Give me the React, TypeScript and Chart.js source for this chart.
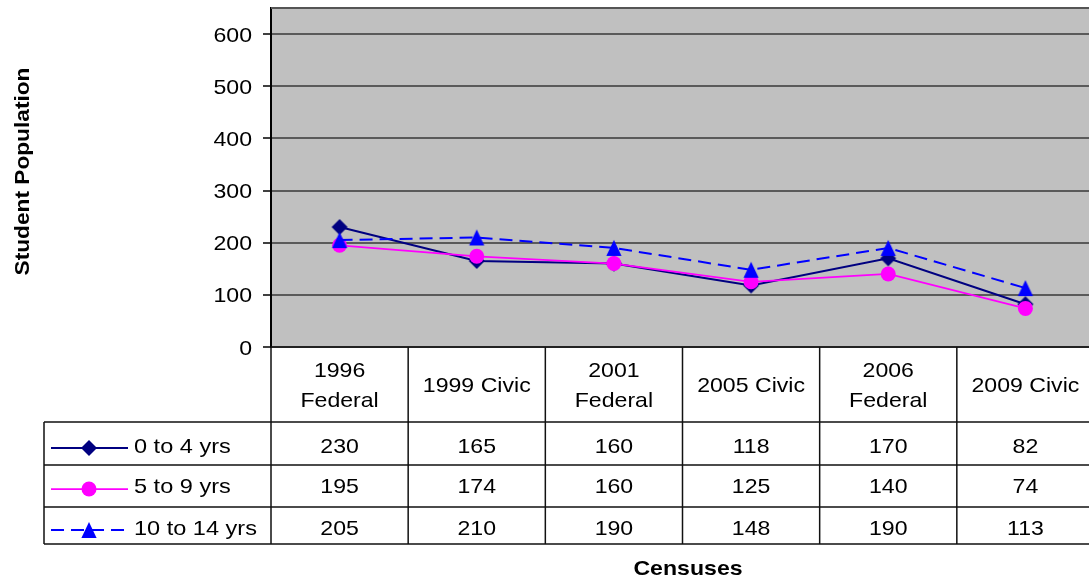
import React, { useEffect, useRef } from "react";
import { Chart, registerables } from "chart.js";

Chart.register(...registerables);

// Census columns (multi-line labels are split into lines)
const censuses: string[][] = [
  ["1996", "Federal"],
  ["1999 Civic"],
  ["2001", "Federal"],
  ["2005 Civic"],
  ["2006", "Federal"],
  ["2009 Civic"],
];

const seriesNames = ["0 to 4 yrs", "5 to 9 yrs", "10 to 14 yrs"];
const ages0to4 = [230, 165, 160, 118, 170, 82];
const ages5to9 = [195, 174, 160, 125, 140, 74];
const ages10to14 = [205, 210, 190, 148, 190, 113];

const yTickStep = 100;
const yMax = 650;

const yTitle = "Student Population";
const xTitle = "Censuses";

const FONT = "'Liberation Sans', Arial, sans-serif";
const TEXT_STRETCH = 1.1;

type Marker = "diamond" | "circle" | "triangle";

const seriesStyles: { color: string; marker: Marker; radius: number; dash: number[]; width: number }[] = [
  { color: "#000080", marker: "diamond", radius: 8, dash: [], width: 2 },
  { color: "#FF00FF", marker: "circle", radius: 7.5, dash: [], width: 1.75 },
  { color: "#0000FF", marker: "triangle", radius: 8, dash: [13, 7], width: 2 },
];

function drawText(
  ctx: CanvasRenderingContext2D,
  text: string,
  x: number,
  y: number,
  font: string,
  align: CanvasTextAlign,
  sx = TEXT_STRETCH,
  rotate = 0
) {
  ctx.save();
  ctx.translate(x, y);
  if (rotate) ctx.rotate(rotate);
  ctx.scale(sx, 1);
  ctx.font = font;
  ctx.fillStyle = "#000";
  ctx.textAlign = align;
  ctx.textBaseline = "alphabetic";
  ctx.fillText(text, 0, 0);
  ctx.restore();
}

function drawMarker(ctx: CanvasRenderingContext2D, marker: Marker, x: number, y: number, r: number, color: string) {
  ctx.save();
  ctx.fillStyle = color;
  ctx.beginPath();
  if (marker === "diamond") {
    ctx.moveTo(x, y - r);
    ctx.lineTo(x + r, y);
    ctx.lineTo(x, y + r);
    ctx.lineTo(x - r, y);
  } else if (marker === "circle") {
    ctx.arc(x, y, r, 0, Math.PI * 2);
  } else {
    // isosceles triangle, as tall as it is wide
    ctx.moveTo(x, y - r);
    ctx.lineTo(x + r * 0.95, y + r);
    ctx.lineTo(x - r * 0.95, y + r);
  }
  ctx.closePath();
  ctx.fill();
  ctx.restore();
}

function markerCanvas(marker: Marker, r: number, color: string): HTMLCanvasElement {
  const c = document.createElement("canvas");
  const size = Math.ceil(r * 2) + 2;
  c.width = size;
  c.height = size;
  const cctx = c.getContext("2d")!;
  drawMarker(cctx, marker, size / 2, size / 2, r, color);
  return c;
}

// Grey plot background and top border of the plot area
const plotBackground = {
  id: "plotBackground",
  beforeDraw(chart: Chart) {
    const { ctx, chartArea } = chart;
    ctx.save();
    ctx.fillStyle = "#C0C0C0";
    ctx.fillRect(chartArea.left, chartArea.top, chartArea.right - chartArea.left, chartArea.bottom - chartArea.top);
    ctx.restore();
  },
  beforeDatasetsDraw(chart: Chart) {
    const { ctx, chartArea } = chart;
    ctx.save();
    ctx.strokeStyle = "#555";
    ctx.lineWidth = 2;
    ctx.beginPath();
    ctx.moveTo(chartArea.left, chartArea.top);
    ctx.lineTo(chartArea.right, chartArea.top);
    ctx.stroke();
    ctx.restore();
  },
};

// Y tick labels, axis titles and the data table under the plot
const tableAndLabels = {
  id: "tableAndLabels",
  afterDraw(chart: Chart) {
    const { ctx, chartArea, scales } = chart;
    const xs: any = scales.x;
    const ys: any = scales.y;

    // y tick labels
    for (const t of ys.ticks) {
      drawText(ctx, String(t.value), chartArea.left - 19, ys.getPixelForValue(t.value) + 7.5, `21px ${FONT}`, "right");
    }

    // axis titles
    drawText(ctx, yTitle, 29, 171.5, `bold 21px ${FONT}`, "center", 1.08, -Math.PI / 2);
    drawText(ctx, xTitle, 688, 575, `bold 21px ${FONT}`, "center", 1.1);

    // table geometry
    const n = censuses.length;
    const colW = xs.getPixelForValue(1) - xs.getPixelForValue(0);
    const edges: number[] = [];
    for (let i = 0; i < n; i++) edges.push(xs.getPixelForValue(i) - colW / 2);
    edges.push(xs.getPixelForValue(n - 1) + colW / 2);
    const right = edges[n];
    const legendLeft = 44;
    const headerTop = chartArea.bottom;
    const rowHeights = [75, 43, 42, 37];
    const rowEdges = [headerTop];
    for (const h of rowHeights) rowEdges.push(rowEdges[rowEdges.length - 1] + h);
    const bottom = rowEdges[rowEdges.length - 1];

    ctx.save();
    ctx.strokeStyle = "#111";
    ctx.lineWidth = 1.5;
    ctx.beginPath();
    ctx.moveTo(edges[0], headerTop);
    ctx.lineTo(right, headerTop);
    for (let r = 1; r < rowEdges.length; r++) {
      ctx.moveTo(legendLeft, rowEdges[r]);
      ctx.lineTo(right, rowEdges[r]);
    }
    ctx.moveTo(legendLeft, rowEdges[1]);
    ctx.lineTo(legendLeft, bottom);
    for (const e of edges) {
      ctx.moveTo(e, headerTop);
      ctx.lineTo(e, bottom);
    }
    ctx.stroke();
    ctx.restore();

    // header labels
    censuses.forEach((lines, i) => {
      const cx = xs.getPixelForValue(i);
      if (lines.length === 2) {
        drawText(ctx, lines[0], cx, headerTop + 29.5, `21px ${FONT}`, "center");
        drawText(ctx, lines[1], cx, headerTop + 59.5, `21px ${FONT}`, "center");
      } else {
        drawText(ctx, lines[0], cx, headerTop + 44.5, `21px ${FONT}`, "center");
      }
    });

    // series rows
    const seriesData = [ages0to4, ages5to9, ages10to14];
    const baselines = [rowEdges[1] + 31, rowEdges[2] + 28, rowEdges[3] + 28];
    const sampleY = [rowEdges[1] + 26, rowEdges[2] + 24, rowEdges[3] + 23];
    seriesData.forEach((vals, s) => {
      const st = seriesStyles[s];
      // legend key
      ctx.save();
      ctx.strokeStyle = st.color;
      ctx.lineWidth = st.width;
      ctx.setLineDash(st.dash);
      ctx.beginPath();
      ctx.moveTo(51, sampleY[s]);
      ctx.lineTo(128, sampleY[s]);
      ctx.stroke();
      ctx.restore();
      drawMarker(ctx, st.marker, 89, sampleY[s], st.radius, st.color);
      drawText(ctx, seriesNames[s], 134, baselines[s], `21px ${FONT}`, "left", 1.12);
      vals.forEach((v, i) => {
        drawText(ctx, String(v), xs.getPixelForValue(i), baselines[s], `21px ${FONT}`, "center");
      });
    });
  },
};

export default function App() {
  const canvasRef = useRef<HTMLCanvasElement | null>(null);

  useEffect(() => {
    if (!canvasRef.current) return;
    const seriesData = [ages0to4, ages5to9, ages10to14];
    const chart = new Chart(canvasRef.current, {
      type: "line",
      data: {
        labels: censuses.map((l) => l.join(" ")),
        datasets: seriesData.map((d, i) => {
          const st = seriesStyles[i];
          return {
            label: seriesNames[i],
            data: d,
            borderColor: st.color,
            backgroundColor: st.color,
            borderWidth: st.width,
            borderDash: st.dash,
            pointStyle: st.marker === "circle" ? "circle" : (markerCanvas(st.marker, st.radius, st.color) as any),
            pointRadius: st.radius,
            pointBackgroundColor: st.color,
            pointBorderColor: st.color,
            pointBorderWidth: 0,
            tension: 0,
            fill: false,
            order: 3 - i,
          };
        }),
      },
      options: {
        animation: false,
        responsive: false,
        devicePixelRatio: 1,
        layout: { padding: { top: 7, bottom: 235, left: 0, right: 0 } },
        plugins: { legend: { display: false }, tooltip: { enabled: false }, title: { display: false } },
        scales: {
          x: { type: "category", display: false, offset: true },
          y: {
            min: 0,
            max: yMax,
            ticks: { display: false, stepSize: yTickStep },
            afterBuildTicks: (s: any) => {
              s.ticks = s.ticks.filter((t: any) => t.value % yTickStep === 0);
            },
            afterFit: (s: any) => {
              s.width = 271;
            },
            grid: { color: "#5a5a5a", lineWidth: 2, tickColor: "#000", tickLength: 8, tickWidth: 1.5 },
            border: { color: "#000", width: 2 },
          },
        },
      },
      plugins: [plotBackground, tableAndLabels],
    });
    return () => chart.destroy();
  }, []);

  return (
    <div style={{ position: "fixed", left: 0, top: 0, width: 1089, height: 582, overflow: "hidden", background: "#fff" }}>
      <canvas ref={canvasRef} width={1102} height={582} style={{ display: "block" }} />
    </div>
  );
}
